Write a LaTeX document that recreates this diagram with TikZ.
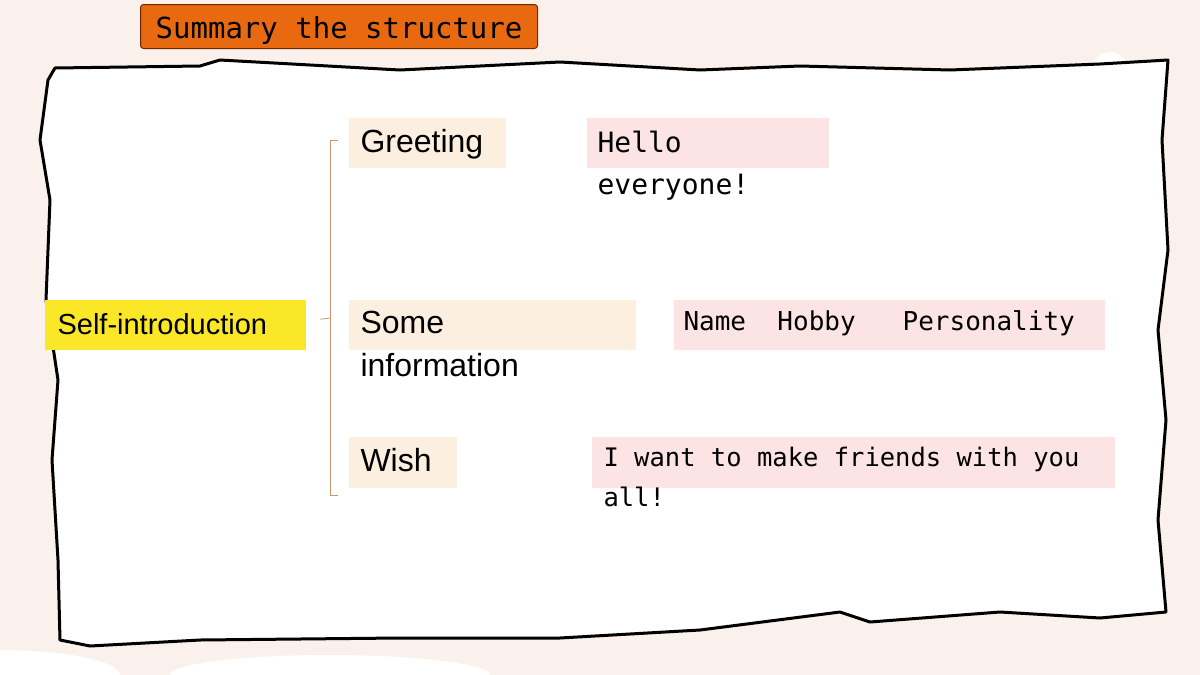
\documentclass[tikz,border=0pt]{standalone}
\usepackage{fontspec}
\setmainfont{Liberation Sans}
\newfontfamily\monof{DejaVu Sans Mono}
\begin{document}
\begin{tikzpicture}[x=1pt,y=-1pt,
  box/.style={anchor=north west,inner sep=0pt},
  lbl/.style={font=\fontsize{32}{43}\selectfont,anchor=north west,align=left},
  mono/.style={font=\monof\fontsize{28}{42}\selectfont,anchor=north west,align=left}]
\fill[fill={rgb,255:red,251;green,241;blue,236}] (0,0) rectangle (1200,675);
\useasboundingbox (0,0) rectangle (1200,675);
\fill[white] (1110,70) circle (18);
\fill[white] (0,675) ellipse (120 and 25);
\fill[white] (330,675) ellipse (160 and 20);
% paper
\draw[line width=3pt,fill=white,line join=round] (55,68) -- (200,66) -- (220,60) -- (400,70) -- (560,62) -- (700,70) -- (800,66) -- (950,70) -- (1100,64) -- (1168,60) -- (1162,140) -- (1168,250) -- (1158,330) -- (1166,420) -- (1158,520) -- (1166,612) -- (1100,618) -- (1000,612) -- (870,622) -- (840,612) -- (700,630) -- (560,638) -- (400,638) -- (200,640) -- (90,646) -- (60,640) -- (58,560) -- (52,460) -- (58,380) -- (46,300) -- (50,200) -- (40,140) -- (48,80) -- cycle;
% title
\node[box,draw={rgb,255:red,110;green,40;blue,5},line width=1pt,fill={rgb,255:red,232;green,105;blue,15},rounded corners=3pt,minimum width=397pt,minimum height=44pt] (title) at (140,4) {};
\node[font=\monof\fontsize{29}{32}\selectfont] at ([yshift=-4pt]title.center) {Summary the structure};
% boxes
\node[box,fill={rgb,255:red,250;green,232;blue,40},minimum width=261pt,minimum height=50pt] (si) at (45,300) {};
\node[lbl,anchor=west,font=\fontsize{29}{34}\selectfont] at (54,324) {Self-introduction};
\node[box,fill={rgb,255:red,253;green,239;blue,224},minimum width=157pt,minimum height=50pt] (gr) at (349,118) {};
\node[lbl] at (357,126) {Greeting};
\node[box,fill={rgb,255:red,253;green,239;blue,224},minimum width=287pt,minimum height=50pt] (so) at (349,300) {};
\node[lbl] at (357,308) {Some\\information};
\node[box,fill={rgb,255:red,253;green,239;blue,224},minimum width=108pt,minimum height=51pt] (wi) at (349,437) {};
\node[lbl] at (357,445) {Wish};
\node[box,fill={rgb,255:red,252;green,228;blue,228},minimum width=242pt,minimum height=50pt] (he) at (587,118) {};
\node[mono] at (594,128) {Hello\\everyone!};
\node[box,fill={rgb,255:red,252;green,228;blue,228},minimum width=431pt,minimum height=50pt] (na) at (674,300) {};
\node[mono,font=\monof\fontsize{26}{42}\selectfont] at (680,307) {Name\ \ Hobby\ \ \ Personality};
\node[box,fill={rgb,255:red,252;green,228;blue,228},minimum width=523pt,minimum height=51pt] (wa) at (592,437) {};
\node[mono,font=\monof\fontsize{25.5}{40}\selectfont] at (600,444) {I want to make friends with you\\all!};
% bracket
\coordinate (bt) at (338,140);
\coordinate (bb) at (338,495);
\draw[color={rgb,255:red,200;green,150;blue,110},line width=0.8pt] (bt) -- (330,140) -- (330,495) -- (bb);
\draw[color={rgb,255:red,200;green,150;blue,110},line width=0.8pt] (si.east)++(14,-6) -- (330,318);
\end{tikzpicture}
\end{document}
